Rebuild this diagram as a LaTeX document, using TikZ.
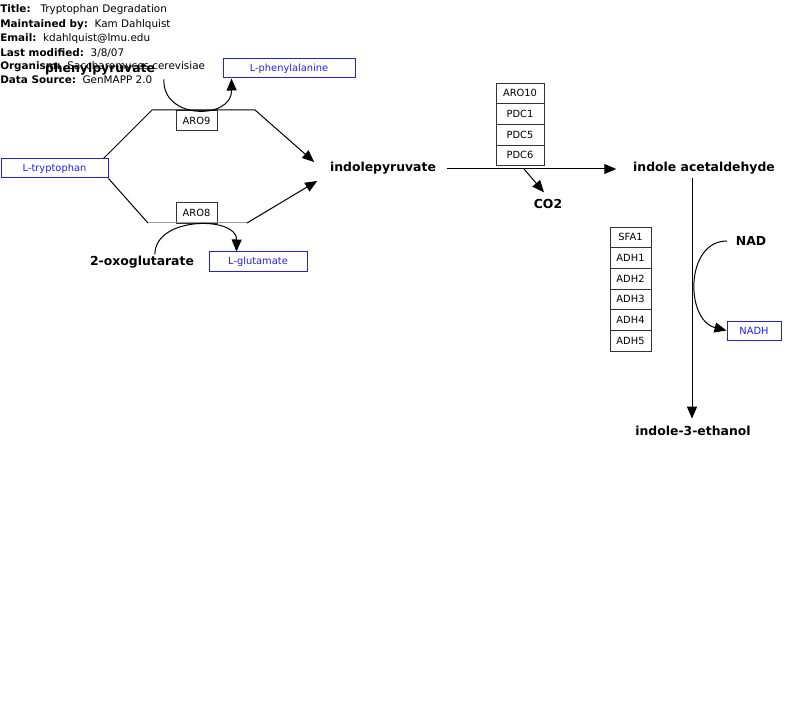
\documentclass[tikz,border=0pt]{standalone}
\usepackage{fontspec}
\setmainfont{DejaVu Sans}
\usepackage{xcolor}
\usetikzlibrary{arrows.meta,positioning}
\definecolor{molblue}{HTML}{2020F0}
\definecolor{geneline}{HTML}{333333}
\definecolor{railgrey}{HTML}{999999}

\begin{document}
\begin{tikzpicture}[
  x=0.75pt,y=-0.75pt,
  meta/.style={anchor=west,inner sep=0pt,font=\fontsize{7.8}{9}\selectfont},
  metab/.style={font=\bfseries\fontsize{9.3}{11}\selectfont,inner sep=2pt},
  molbox/.style={draw=molblue,text=molblue,font=\fontsize{7.4}{9}\selectfont,
                 minimum height=14.25pt,inner sep=0pt,line width=0.75pt},
  gene/.style={draw=geneline,font=\fontsize{7.4}{9}\selectfont,
               minimum height=15.5pt,inner sep=0pt,outer sep=0pt,line width=0.75pt},
  arrow/.style={-{Triangle[length=9pt,width=7.5pt]},draw=black,line width=0.75pt},
  rail/.style={draw=black,line width=0.75pt},
]
\useasboundingbox (0,0) rectangle (799,702);

% header
\node[meta] (mtitle)  at (0,10) {\textbf{Title:}\ \ \ Tryptophan Degradation};
\node[meta] (mmaint)  at (0,25) {\textbf{Maintained by:}\ \ Kam Dahlquist};
\node[meta] (memail)  at (0,39) {\textbf{Email:}\ \ kdahlquist@lmu.edu};
\node[meta] (mmod)    at (0,53) {\textbf{Last modified:}\ \ 3/8/07};
\node[meta] (morg)    at (0,67) {\textbf{Organism:}\ \ Saccharomyces cerevisiae};
\node[meta] (msrc)    at (0,80) {\textbf{Data Source:}\ \ GenMAPP 2.0};

% metabolites
\node[molbox,minimum width=80.25pt] (trp)  at (54.5,168.5) {L-tryptophan};
\node[molbox,minimum width=99pt]    (phe)  at (289,68.5)   {L-phenylalanine};
\node[molbox,minimum width=73.5pt]  (glu)  at (258,261.5)  {L-glutamate};
\node[molbox,minimum width=40.5pt]  (nadh) at (754,330.5)  {NADH};

\node[metab] (ppyr)  at (100,69)  {phenylpyruvate};
\node[metab] (oxo)   at (142,262) {2-oxoglutarate};
\node[metab] (ipyr)  at (383,168) {indolepyruvate};
\node[metab] (iacet) at (704,168) {indole acetaldehyde};
\node[metab] (co2)   at (548,204) {CO2};
\node[metab] (nad)   at (751,241) {NAD};
\node[metab] (ieth)  at (693,431) {indole-3-ethanol};

% gene products
\node[gene,minimum width=30.75pt] (aro9) at (196.5,120.5) {ARO9};
\node[gene,minimum width=30.75pt] (aro8) at (196.5,213)   {ARO8};

\node[gene,minimum width=36pt] (aro10) at (520,93.4) {ARO10};
\node[gene,minimum width=36pt,below=0pt of aro10] (pdc1) {PDC1};
\node[gene,minimum width=36pt,below=0pt of pdc1]  (pdc5) {PDC5};
\node[gene,minimum width=36pt,below=0pt of pdc5]  (pdc6) {PDC6};

\node[gene,minimum width=30.75pt] (sfa1) at (630.5,237.4) {SFA1};
\node[gene,minimum width=30.75pt,below=0pt of sfa1] (adh1) {ADH1};
\node[gene,minimum width=30.75pt,below=0pt of adh1] (adh2) {ADH2};
\node[gene,minimum width=30.75pt,below=0pt of adh2] (adh3) {ADH3};
\node[gene,minimum width=30.75pt,below=0pt of adh3] (adh4) {ADH4};
\node[gene,minimum width=30.75pt,below=0pt of adh4] (adh5) {ADH5};

% ARO9 and ARO8 routes
\coordinate (t1) at (152,110);
\coordinate (t2) at (255,110);
\coordinate (b1) at (148,223);
\coordinate (b2) at (247,223);
\draw[rail] ([xshift=-3.75pt]trp.north east) -- (t1) -- (t2);
\draw[arrow] (t2) -- ([xshift=-9.75pt,yshift=4.5pt]ipyr.west);
\draw[rail] (trp.south east) -- (b1);
\draw[draw=railgrey,line width=0.75pt] (b1) -- (b2);
\draw[arrow] (b2) -- ([xshift=-7.5pt,yshift=-9.75pt]ipyr.west);

\draw[arrow] ([xshift=4.5pt,yshift=-1pt]ppyr.south east)
  .. controls (162,120) and (232,120) .. ([xshift=6.75pt]phe.south west);
\draw[arrow] ([xshift=-31.5pt,yshift=-1pt]oxo.north east)
  .. controls (155,216) and (237,216) .. ([xshift=21pt]glu.north west);

% decarboxylation
\coordinate (fork) at (524,169);
\draw[arrow] ([xshift=6pt,yshift=-0.75pt]ipyr.east) -- ([xshift=-10.5pt,yshift=-0.75pt]iacet.west);
\draw[arrow] (fork) -- ([xshift=-3pt,yshift=3pt]co2.north);

% reduction
\draw[arrow] ([xshift=-9pt,yshift=-0.5pt]iacet.south) -- ([xshift=-0.75pt,yshift=3.5pt]ieth.north);
\draw[arrow] ([xshift=-4.5pt]nad.west)
  .. controls (685,241) and (685,320) .. (nadh.west);
\end{tikzpicture}
\end{document}
